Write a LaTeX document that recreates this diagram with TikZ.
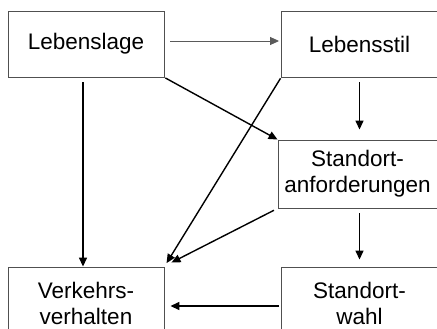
\documentclass[tikz,border=0pt]{standalone}
\usepackage{fontspec}
\setmainfont{Liberation Sans}
\usetikzlibrary{arrows.meta}

\begin{document}
\begin{tikzpicture}[x=1pt,y=1pt,yscale=-1,xscale=1,
  box/.style={draw={rgb,255:red,80;green,80;blue,80},line width=0.9pt,inner sep=0pt,
    minimum width=156pt,align=center,font=\fontsize{22.5}{26}\selectfont},
  conn/.style={line width=1.4pt,-{Triangle[length=9pt,width=8pt]}},
  thinconn/.style={draw={rgb,255:red,90;green,90;blue,90},line width=0.9pt,
    -{Triangle[length=9pt,width=8pt]}}]
\useasboundingbox (0,0) rectangle (437,329);

%Shape: Rectangle [Lebenslage]
\node [box,minimum height=66pt] (lage) at (86,44) {Lebenslage};
%Shape: Rectangle [Lebensstil]
\node [box,minimum height=66pt] (stil) at (359.5,44) {Lebensstil};
%Shape: Rectangle [Standortanforderungen]
\node [box,minimum width=159pt,minimum height=68pt] (anf) at (357.5,174) {Standort-\\anforderungen};
%Shape: Rectangle [Verkehrsverhalten]
\node [box,minimum height=72pt] (verk) at (86,303) {Verkehrs-\\verhalten};
%Shape: Rectangle [Standortwahl]
\node [box,minimum height=72pt] (wahl) at (359.5,303) {Standort-\\wahl};

%Straight Lines
\draw [thinconn,shorten <=6pt,shorten >=2pt] ([yshift=-3pt]lage.east) -- ([yshift=-3pt]stil.west);
%Straight Lines
\draw [conn,shorten <=5pt,shorten >=10pt] (stil.south) -- (stil.south |- anf.north);
%Straight Lines
\draw [conn,shorten <=1pt] (lage.south east) -- (anf.north west);
%Straight Lines
\draw [conn,shorten <=1pt,shorten >=4pt] (stil.south west) -- (verk.north east);
%Straight Lines
\draw [conn,shorten <=5pt] ([xshift=-3pt]lage.south) -- ([xshift=-3pt]verk.north);
%Straight Lines
\draw [conn,shorten <=4pt] (anf.south west) -- ([xshift=7pt,yshift=-4pt]verk.north east);
%Straight Lines
\draw [conn,shorten <=5pt,shorten >=7pt] (wahl.north |- anf.south) -- (wahl.north);
%Straight Lines
\draw [conn,shorten <=2pt,shorten >=6pt] ([yshift=3pt]wahl.west) -- ([yshift=3pt]verk.east);

\end{tikzpicture}
\end{document}
